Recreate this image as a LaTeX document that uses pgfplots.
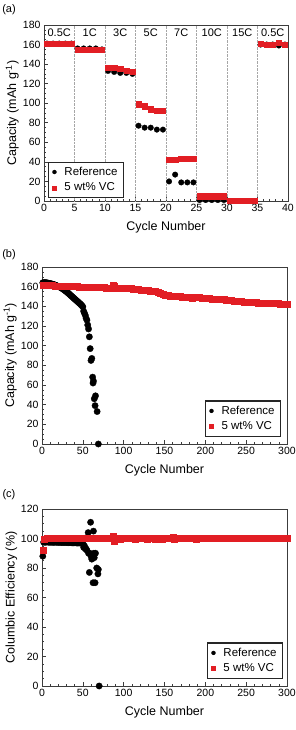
\documentclass[border=0pt]{standalone}
\usepackage{fontspec}
\setmainfont{Liberation Sans}
\usepackage{pgfplots}
\pgfplotsset{compat=1.18}

\definecolor{vcred}{RGB}{226,30,36}
\definecolor{axgray}{RGB}{60,60,60}

\pgfplotsset{
  cellaxis/.style={
    scale only axis,
    width=244pt, height=176pt,
    anchor=south west,
    axis line style={axgray, line width=0.8pt},
    tick align=inside,
    xtick pos=left, ytick pos=left,
    major tick length=4pt, minor tick length=2pt,
    tick style={axgray, line width=0.6pt},
    tick label style={font=\fontsize{10.5}{12}\selectfont},
    /pgf/number format/assume math mode=true,
    xlabel={Cycle Number},
    every axis x label/.style={at={(axis description cs:0.5,-0.15)}, anchor=center, font=\fontsize{12.5}{14}\selectfont},
    every axis y label/.style={at={(axis description cs:-0.13,0.5)}, rotate=90, anchor=center, font=\fontsize{12.5}{14}\selectfont},
    legend style={font=\fontsize{11.5}{13}\selectfont, draw=black!85, line width=1.1pt,
      inner xsep=4pt, inner ysep=3pt, row sep=2pt,
      /tikz/every odd column/.append style={column sep=6pt}},
    legend image post style={line width=0.4pt, mark size=2pt},
    legend cell align=left,
    clip=false,
  },
  refmark/.style={only marks, mark=*, mark size=2.8pt, black, mark options={fill=black, draw=black, line width=0.3pt}},
  vcmark/.style={only marks, mark=square*, mark size=2.6pt, vcred, mark options={fill=vcred, draw=vcred, line width=0.3pt}},
}

% rate capability
\pgfplotstableread{
x   ref  vc
0.5 161 161
1.5 161 161
2.5 161 161
3.5 161 161
4.5 161 161
5.5 156 155
6.5 156 155
7.5 156 155
8.5 156 155
9.5 155 155
10.5 133 136
11.5 132 136
12.5 131 135
13.5 131 133
14.5 130 132
15.5 77 99
16.5 75 97
17.5 75 94
18.5 73 92
19.5 73 92
20.5 20 42
21.5 27 42
22.5 19 43
23.5 19 43
24.5 19 43
25.5 1 5
26.5 1 5
27.5 1 5
28.5 1 5
29.5 1 5
30.5 0 0
31.5 0 0
32.5 0 0
33.5 0 0
34.5 0 0
35.5 160 161
36.5 160 160
37.5 160 160
38.5 159 162
39.5 160 160
}\ratetable

% long-term cycling, reference cell
\pgfplotstableread{
x y
1 164
2 164
3 164
4 164
5 164
6 163.8
7 163.7
8 163.5
9 163.3
10 163
11 163
12 162.7
13 162.5
14 162.2
15 162
16 161.6
17 161.3
18 161
19 160.6
20 160.2
21 160
22 159.5
23 159
24 158.5
25 158
26 157.4
27 156.8
28 156.2
29 155.5
30 155
31 154.2
32 153.5
33 152.8
34 152
35 151.2
36 150.5
37 149.8
38 149
39 148.2
40 147.5
41 146.8
42 146
43 145.3
44 144.6
45 143.8
46 143
47 142.4
48 141.5
49 140.6
50 139.5
51 135
52 133
53 131
54 128
55 126
56 121
57 117
58 109
59 97
60 85
61 87
62 68
62.5 62
63 64
64 46
65.5 49
65 39
67.5 33
69 0
}\capref

% long-term cycling, 5 wt% VC cell
\pgfplotstableread{
x y
1 161.5
4 161.4
7 161.3
10 161.2
13 161.1
16 161
19 160.9
22 160.8
25 160.7
28 160.6
31 160.5
34 160.4
37 160.3
40 160.2
43 160.1
46 160
49 160
52 159.8
55 159.7
58 159.6
61 159.5
64 159.4
67 159.3
70 159.2
73 159.1
76 159
79 158.9
82 158.8
85 158.7
87 161.5
88 160.5
91 158.5
94 158.4
97 158.3
100 158.3
103 158.2
106 158.1
109 158
112 157.7
115 157.4
118 157.1
121 156.8
124 156.5
127 156.2
130 156
133 155.7
136 155.4
139 155
142 154
145 153
148 152
151 151.3
154 151
157 150.8
160 150.5
163 150.4
166 150.2
169 150
172 149.7
175 149.4
178 149.1
181 149
184 148.8
187 149.6
190 149.5
193 149.2
196 148.8
199 148.5
202 148.3
205 148
208 147.7
211 147.5
214 147.3
217 147.1
220 147
222 147.8
223 147.2
226 146.5
229 146.1
232 145.8
235 145.6
238 145.3
241 145.1
244 144.9
247 144.6
250 144.4
253 144.2
256 144
259 143.9
262 143.8
265 143.7
268 143.6
271 143.5
274 143.4
277 143.2
280 143.1
283 143
286 142.9
289 142.8
292 142.7
295 142.7
298 142.6
300 142.6
}\capvc

% coulombic efficiency, reference cell
\pgfplotstableread{
x y
1 88
2 97.5
4 97.4
6 97.6
8 97.5
10 97.4
12 97.5
14 97.3
16 97.5
18 97.4
20 97.3
22 97.4
24 97.2
26 97.3
28 97.2
30 97.3
32 97.1
34 97.2
36 97.1
38 97
40 97.1
42 97
44 96.9
46 97
48 96.8
50 96.8
51 94
52 95
53 93
54 93
55 92
56.5 104
57 90
58 77
58.5 90
59.5 111
60 88
61 86
62.5 70
63 105
63.5 90
64 87
65 70
65.5 90
67 80
68.5 76
69 79
70 0
}\ceref

% coulombic efficiency, 5 wt% VC cell
\pgfplotstableread{
x y
1 92
3 99.8
6 100
9 99.9
12 100.1
15 100
18 99.9
21 100
24 100.1
27 100
30 99.9
33 100
36 100.1
39 100
42 99.9
45 100
48 100
51 100.1
54 99.9
57 100
60 100
63 100.1
66 99.9
69 100
72 100
75 100.1
78 99.9
81 100
84 100
87 101.8
88 98.5
90 100
93 100.2
96 99.8
99 100
102 100.1
105 99.9
108 100
111 100.2
114 99.8
117 100
120 100.1
123 99.9
126 100.4
129 99.7
132 100
135 100.2
138 99.8
141 100
144 100.1
147 99.5
150 100
153 100.2
156 99.9
159 100
161 100.8
162 99.6
165 100
168 100.1
171 99.9
174 100
177 100.1
180 99.9
183 100
186 100
189 99.7
192 100.2
195 100
198 100.1
201 99.9
204 100
207 100
210 100.1
213 99.9
216 100
219 100
222 100.1
225 99.9
228 100
231 100
234 100.1
237 99.9
240 100
243 100
246 100.1
249 99.9
252 100
255 100
258 100.1
261 99.9
264 100
267 100
270 100.1
273 99.9
276 100
279 100
282 100.1
285 99.9
288 100
291 100
294 100.1
297 99.9
300 100
}\cevc

\begin{document}
\begin{tikzpicture}
\useasboundingbox (0,0) rectangle (296pt,730pt);

\node[font=\fontsize{11}{13}\selectfont] at (9pt,720pt) {(a)};
\node[font=\fontsize{11}{13}\selectfont] at (9pt,475pt) {(b)};
\node[font=\fontsize{11}{13}\selectfont] at (9pt,235pt) {(c)};

% (a) rate capability
\begin{axis}[cellaxis, at={(44pt,529pt)},
  xmin=0, xmax=40, ymin=0, ymax=180,
  xtick={0,5,...,40}, minor x tick num=4,
  ytick={0,20,...,180}, minor y tick num=3,
  extra x ticks={5,10,...,35}, extra x tick labels={},
  extra x tick style={grid=major, major grid style={gray!70, densely dotted, line width=0.5pt}, major tick length=0pt},
  ylabel={Capacity (mAh g\textsuperscript{-1})},
  legend style={at={(axis description cs:0.016,0.017)}, anchor=south west},
]
\addplot[refmark] table[x=x, y=ref] {\ratetable};
\addplot[vcmark] table[x=x, y=vc] {\ratetable};
\legend{Reference, 5 wt\% VC}
\foreach \xc/\lab in {2.5/0.5C, 7.5/1C, 12.5/3C, 17.5/5C, 22.5/7C, 27.5/10C, 32.5/15C, 37.5/0.5C}{
  \edef\tmp{\noexpand\node[font=\noexpand\fontsize{11}{13}\noexpand\selectfont] at (axis cs:\xc,172.5) {\lab};}
  \tmp
}
\end{axis}

% (b) long-term capacity
\begin{axis}[cellaxis, at={(42pt,286pt)}, width=245pt, height=177pt,
  xmin=0, xmax=300, ymin=0, ymax=180,
  xtick={0,50,...,300}, minor x tick num=4,
  ytick={0,20,...,180}, minor y tick num=3,
  ylabel={Capacity (mAh g\textsuperscript{-1})},
  legend style={at={(axis description cs:0.976,0.04)}, anchor=south east},
]
\addplot[refmark, mark size=3.2pt] table {\capref};
\addplot[vcmark, mark size=3pt] table {\capvc};
\legend{Reference, 5 wt\% VC}
\end{axis}

% (c) coulombic efficiency
\begin{axis}[cellaxis, at={(42pt,44pt)}, width=245pt, height=177pt,
  xmin=0, xmax=300, ymin=0, ymax=120,
  xtick={0,50,...,300}, minor x tick num=4,
  ytick={0,20,...,120}, minor y tick num=3,
  ylabel={Columbic Efficiency (\%)},
  every axis y label/.append style={at={(axis description cs:-0.125,0.5)}},
  legend style={at={(axis description cs:0.984,0.04)}, anchor=south east},
]
\addplot[refmark, mark size=3.2pt] table {\ceref};
\addplot[vcmark, mark size=3pt] table {\cevc};
\legend{Reference, 5 wt\% VC}
\end{axis}
\end{tikzpicture}
\end{document}
